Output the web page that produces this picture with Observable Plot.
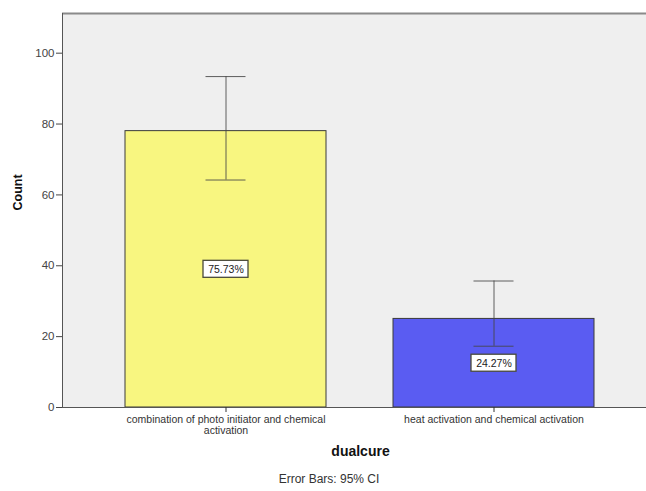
<!DOCTYPE html>
<html><head><meta charset="utf-8">
<script src="https://cdn.jsdelivr.net/npm/d3@7"></script>
<script src="https://cdn.jsdelivr.net/npm/@observablehq/plot@0.6"></script>
<style>
  body { margin: 0; background: #fff; font-family: "Liberation Sans", Arial, sans-serif; }
</style>
</head><body><div id="chart"></div>
<script>
// Dual-cure activation method counts with 95% confidence intervals
const categories = [
  "combination of photo initiator and chemical activation",
  "heat activation and chemical activation"
];
const tickLabels = [
  "combination of photo initiator and chemical\nactivation",
  "heat activation and chemical activation"
];
const counts = [78, 25];
const ciLow = [64.2, 17.3];
const ciHigh = [93.4, 35.7];
const percentLabels = ["75.73%", "24.27%"];
const barColors = ["#f8f680", "#5a5cf2"];
const yTicks = [0, 20, 40, 60, 80, 100];
const yMax = 111.2;

const rows = categories.map((c, i) => ({
  category: c, count: counts[i], lo: ciLow[i], hi: ciHigh[i], pct: percentLabels[i]
}));

const chart = Plot.plot({
  width: 646,
  height: 491,
  marginLeft: 62,
  marginRight: 0,
  marginTop: 13,
  marginBottom: 84,
  style: { fontFamily: "Liberation Sans, Arial, sans-serif", background: "transparent", overflow: "visible" },
  x: { domain: categories, range: [62, 657], paddingInner: 0.25, paddingOuter: 0.235, axis: null },
  y: { domain: [0, yMax], axis: null },
  color: { domain: categories, range: barColors },
  marks: [
    Plot.frame({ fill: "#efefef", stroke: null }),
    Plot.ruleY([yMax], { stroke: "#8a8a8a", strokeWidth: 2 }),
    Plot.barY(rows, { x: "category", y: "count", fill: "category", stroke: "#3a3a3a", strokeWidth: 1 }),
    Plot.ruleX(rows, { x: "category", y1: "lo", y2: "hi", stroke: "#444", strokeOpacity: 0.85 }),
    Plot.tickY(rows, { x: "category", y: "hi", insetLeft: 80.5, insetRight: 80.5, stroke: "#444", strokeOpacity: 0.85 }),
    Plot.tickY(rows, { x: "category", y: "lo", insetLeft: 80.5, insetRight: 80.5, stroke: "#444", strokeOpacity: 0.85 }),
    Plot.barY(rows, {
      x: "category", y1: d => d.count / 2, y2: d => d.count / 2,
      insetLeft: 78, insetRight: 78, insetTop: -8.5, insetBottom: -8.5,
      fill: "white", stroke: "#4a4a3a", strokeWidth: 1.3
    }),
    Plot.text(rows, { x: "category", y: d => d.count / 2, text: "pct", fontSize: 10.5, fill: "#222" }),
    Plot.frame({ anchor: "left", stroke: "#555" }),
    Plot.ruleY([0], { stroke: "#555" }),
    Plot.axisY(yTicks, { tickSize: 6, tickPadding: 2, fontSize: 11.5, color: "#444", label: null }),
    Plot.axisX({
      tickFormat: d => tickLabels[categories.indexOf(d)],
      tickSize: 5, tickPadding: 3, fontSize: 10.5, color: "#333", label: null, lineHeight: 1.05
    }),
    Plot.text(["Count"], { frameAnchor: "left", rotate: -90, dx: -45, fontWeight: "bold", fontSize: 12.5, fill: "#111" }),
    Plot.text(["dualcure"], { frameAnchor: "bottom", dy: 48, dx: 6, fontWeight: "bold", fontSize: 14, fill: "#111" }),
    Plot.text(["Error Bars: 95% CI"], { frameAnchor: "bottom", dy: 75, dx: -25.5, fontSize: 12, fill: "#333" })
  ]
});

document.getElementById("chart").appendChild(chart);
</script>
</body></html>
